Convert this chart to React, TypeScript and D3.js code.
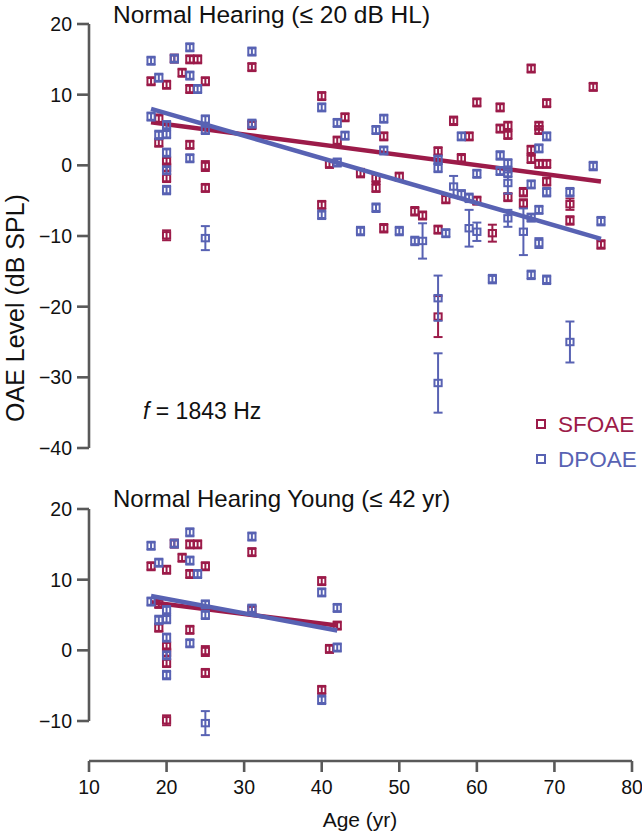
import React from 'react';
import * as d3 from 'd3';

// SFOAE points: age (yr), level (dB SPL), error half-width
const sfoaeAge = [18, 19, 19, 20, 20, 20, 20, 20, 21, 22, 23, 23, 23, 24, 25, 25, 25, 31, 31, 40, 40, 41, 42, 43, 45, 47, 47, 48, 48, 50, 52, 53, 55, 55, 55, 56, 57, 58, 59, 60, 60, 62, 63, 63, 64, 64, 64, 66, 66, 67, 67, 67, 68, 68, 68, 69, 69, 69, 72, 72, 75, 76];
const sfoaeLevel = [11.9, 6.6, 3.2, 11.4, 0.6, -0.3, -1.8, -9.9, 15.1, 13.1, 15.0, 10.8, 2.9, 15.0, 11.9, -0.1, -3.2, 13.9, 5.7, 9.8, -5.6, 0.2, 3.5, 6.8, -1.1, -1.8, -3.2, 4.1, -8.9, -1.6, -6.5, -7.1, 2.0, -9.1, -21.4, -4.8, 6.3, 1.0, 4.1, 8.9, -5.0, -9.6, 8.2, 5.2, 5.6, 4.3, -4.5, -3.8, -5.4, 13.7, 2.2, 0.9, 5.6, 5.0, 0.2, 8.8, 0.2, -2.3, -5.5, -7.8, 11.1, -11.2];
const sfoaeErr = [0.4, 0.6, 0.4, 0.4, 0.5, 0.5, 0.4, 0.7, 0.4, 0.4, 0.4, 0.4, 0.4, 0.4, 0.4, 0.7, 0.4, 0.4, 0.4, 0.4, 0.4, 0.5, 0.5, 0.4, 0.6, 0.4, 0.4, 0.4, 0.6, 0.4, 0.6, 0.5, 0.4, 0.4, 2.9, 0.5, 0.6, 0.6, 0.4, 0.4, 0.5, 1.2, 0.4, 0.4, 0.4, 0.4, 0.4, 0.6, 0.6, 0.4, 0.4, 0.4, 0.4, 0.4, 0.4, 0.4, 0.4, 0.4, 0.8, 0.6, 0.4, 0.6];

// DPOAE points
const dpoaeAge = [18, 18, 19, 19, 20, 20, 20, 20, 20, 21, 23, 23, 23, 24, 25, 25, 25, 31, 31, 40, 40, 42, 42, 43, 45, 47, 47, 48, 48, 50, 52, 53, 55, 55, 55, 55, 56, 57, 58, 58, 59, 59, 60, 60, 62, 63, 63, 64, 64, 64, 64, 66, 67, 67, 67, 68, 68, 68, 69, 69, 69, 72, 72, 75, 76];
const dpoaeLevel = [14.8, 6.9, 12.4, 4.3, 5.7, 4.4, 1.8, -0.7, -3.5, 15.1, 16.7, 12.7, 1.0, 10.8, 6.5, 5.0, -10.3, 16.1, 5.9, 8.2, -7.0, 6.0, 0.4, 4.2, -9.3, 5.0, -6.0, 6.6, 2.1, -9.3, -10.7, -10.7, 0.8, -0.4, -18.8, -30.8, -9.6, -3.0, 4.1, -4.1, -4.6, -8.9, -1.2, -9.4, -16.1, 1.4, -0.8, 0.3, -1.1, -2.5, -7.5, -9.4, -2.7, -7.4, -15.5, 2.4, -6.3, -11.0, 4.1, -3.8, -16.2, -3.8, -25.0, -0.1, -7.9];
const dpoaeErr = [0.4, 0.5, 0.4, 0.6, 0.5, 0.5, 0.5, 0.5, 0.6, 0.4, 0.4, 0.4, 0.5, 0.4, 0.4, 0.5, 1.7, 0.4, 0.4, 0.4, 0.6, 0.4, 0.4, 0.4, 0.6, 0.4, 0.6, 0.4, 0.4, 0.6, 0.6, 2.5, 0.4, 0.4, 3.2, 4.2, 0.4, 1.5, 0.4, 0.6, 0.6, 2.6, 0.4, 1.3, 0.6, 0.6, 0.4, 0.4, 0.4, 1.5, 1.2, 3.3, 0.4, 0.5, 0.6, 0.4, 0.5, 0.7, 0.4, 0.6, 0.6, 0.6, 2.9, 0.6, 0.6];

// regression lines [age, level] at the two ends
const sfoaeFitAll = [[18, 6.1], [76, -2.3]];
const dpoaeFitAll = [[18, 8.0], [76, -10.4]];
const sfoaeFitYoung = [[18, 6.8], [42, 3.5]];
const dpoaeFitYoung = [[18, 7.7], [42, 2.8]];

const xTicks = [10, 20, 30, 40, 50, 60, 70, 80];
const topTicks = [20, 10, 0, -10, -20, -30, -40];
const bottomTicks = [20, 10, 0, -10];

const RED = '#9c1b49';
const BLUE = '#5862b3';
const AXIS = '#595959';
const FONT = '"Liberation Sans", Arial, sans-serif';

const x = d3.scaleLinear().domain([10, 80]).range([89, 632]);
const yTop = d3.scaleLinear().domain([-40, 20]).range([448, 24]);
const yBottom = d3.scaleLinear().domain([-10, 20]).range([721, 509]);
const fmt = d3.format('d');

type Pt = { age: number; v: number; e: number };

const toPoints = (a: number[], v: number[], e: number[]): Pt[] =>
  a.map((age, i) => ({ age, v: v[i], e: e[i] }));

const sfoae = toPoints(sfoaeAge, sfoaeLevel, sfoaeErr);
const dpoae = toPoints(dpoaeAge, dpoaeLevel, dpoaeErr);

const Markers = ({ pts, y, color }: { pts: Pt[]; y: d3.ScaleLinear<number, number>; color: string }) => (
  <g stroke={color} strokeWidth={2} fill="none">
    {pts.map((p, i) => {
      const cx = x(p.age);
      const cy = y(p.v);
      const y1 = Math.min(y(p.v + p.e), cy - 4);
      const y2 = Math.max(y(p.v - p.e), cy + 4);
      return (
        <g key={i}>
          <line x1={cx} x2={cx} y1={y1} y2={y2} />
          <line x1={cx - 4.5} x2={cx + 4.5} y1={y1} y2={y1} />
          <line x1={cx - 4.5} x2={cx + 4.5} y1={y2} y2={y2} />
          <rect x={cx - 3.6} y={cy - 3.2} width={7.2} height={6.4} />
        </g>
      );
    })}
  </g>
);

const Fit = ({ pts, y, color }: { pts: number[][]; y: d3.ScaleLinear<number, number>; color: string }) => {
  const line = d3.line<number[]>().x(d => x(d[0])).y(d => y(d[1]));
  return <path d={line(pts) || ''} stroke={color} strokeWidth={4.5} fill="none" />;
};

const YAxis = ({ y, ticks }: { y: d3.ScaleLinear<number, number>; ticks: number[] }) => {
  const [lo, hi] = y.domain();
  return (
    <g>
      <line x1={89} x2={89} y1={y(lo)} y2={y(hi)} stroke={AXIS} strokeWidth={2.6} />
      {ticks.map(t => (
        <g key={t}>
          <line x1={77} x2={89} y1={y(t)} y2={y(t)} stroke={AXIS} strokeWidth={2.6} />
          <text x={72} y={y(t)} textAnchor="end" dominantBaseline="central" fontSize={19.5}>
            {fmt(t)}
          </text>
        </g>
      ))}
    </g>
  );
};

const Panel = ({ y, ticks, maxAge, fitR, fitB, title, titleY, titleSize }: any) => {
  const r = sfoae.filter(p => p.age <= maxAge);
  const b = dpoae.filter(p => p.age <= maxAge);
  return (
    <g>
      <YAxis y={y} ticks={ticks} />
      <Markers pts={r} y={y} color={RED} />
      <Fit pts={fitR} y={y} color={RED} />
      <Markers pts={b} y={y} color={BLUE} />
      <Fit pts={fitB} y={y} color={BLUE} />
      <text x={113} y={titleY} fontSize={titleSize}>{title}</text>
    </g>
  );
};

export default function App() {
  return (
    <svg
      width={642}
      height={831}
      style={{ position: 'absolute', left: 0, top: 0, background: '#fff' }}
      fontFamily={FONT}
      fill="#111"
    >
      <Panel y={yTop} ticks={topTicks} maxAge={100} fitR={sfoaeFitAll} fitB={dpoaeFitAll}
        title="Normal Hearing (≤ 20 dB HL)" titleY={23} titleSize={24.5} />
      <Panel y={yBottom} ticks={bottomTicks} maxAge={42} fitR={sfoaeFitYoung} fitB={dpoaeFitYoung}
        title="Normal Hearing Young (≤ 42 yr)" titleY={507} titleSize={24} />

      <text x={143} y={419} fontSize={23}>
        <tspan fontStyle="italic">f</tspan> = 1843 Hz
      </text>

      {/* legend */}
      <rect x={537} y={420} width={8} height={8} fill="none" stroke={RED} strokeWidth={2} />
      <text x={558} y={424} fontSize={22.5} fill={RED} dominantBaseline="central">SFOAE</text>
      <rect x={537} y={455} width={8} height={8} fill="none" stroke={BLUE} strokeWidth={2} />
      <text x={558} y={459} fontSize={22.5} fill={BLUE} dominantBaseline="central">DPOAE</text>

      {/* x axis */}
      <line x1={x(10)} x2={x(80)} y1={761} y2={761} stroke={AXIS} strokeWidth={2.6} />
      {xTicks.map(t => (
        <g key={t}>
          <line x1={x(t)} x2={x(t)} y1={761} y2={772} stroke={AXIS} strokeWidth={2.6} />
          <text x={x(t)} y={787} textAnchor="middle" dominantBaseline="central" fontSize={19.5}>
            {fmt(t)}
          </text>
        </g>
      ))}
      <text x={360} y={819} textAnchor="middle" dominantBaseline="central" fontSize={21}>Age (yr)</text>

      <text transform="translate(24,308) rotate(-90)" textAnchor="middle" fontSize={25}>
        OAE Level  (dB SPL)
      </text>
    </svg>
  );
}
